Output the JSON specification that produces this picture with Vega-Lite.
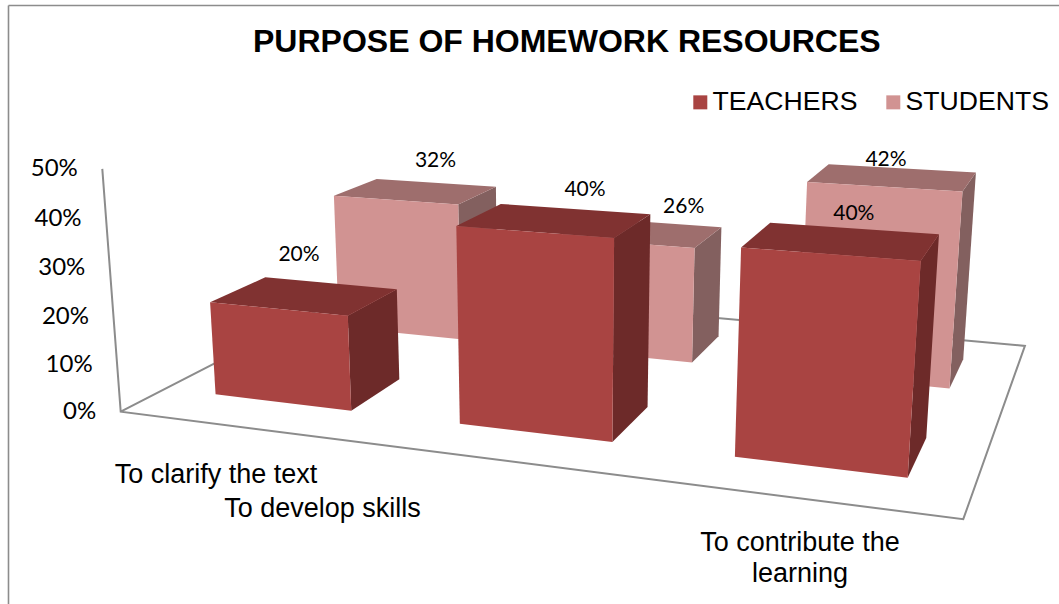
{
  "$schema": "https://vega.github.io/schema/vega-lite/v6.json",
  "width": 1059,
  "height": 604,
  "padding": 0,
  "autosize": "none",
  "background": "white",
  "config": {"view": {"stroke": null}},
  "title": {
    "text": "PURPOSE OF HOMEWORK RESOURCES",
    "anchor": "start",
    "frame": "group",
    "dx": 253,
    "dy": 63,
    "font": "Liberation Sans",
    "fontSize": 32,
    "fontWeight": "bold",
    "color": "#000000"
  },
  "datasets": {
    "bars": [
      {"purpose": "To clarify the text", "group": "TEACHERS", "value": 0.20},
      {"purpose": "To develop skills", "group": "TEACHERS", "value": 0.40},
      {"purpose": "To contribute the learning", "group": "TEACHERS", "value": 0.40},
      {"purpose": "To clarify the text", "group": "STUDENTS", "value": 0.32},
      {"purpose": "To develop skills", "group": "STUDENTS", "value": 0.26},
      {"purpose": "To contribute the learning", "group": "STUDENTS", "value": 0.42}
    ],
    "ticks": [{"tick": 0}, {"tick": 0.1}, {"tick": 0.2}, {"tick": 0.3}, {"tick": 0.4}, {"tick": 0.5}],
    "floor": [{"step": 0}, {"step": 1}, {"step": 2}, {"step": 3}, {"step": 4}, {"step": 5}],
    "border": [{"edge": "top"}, {"edge": "left"}]
  },
  "resolve": {"scale": {"x": "independent", "y": "independent"}},
  "layer": [
    {
      "data": {"name": "border"},
      "mark": {"type": "rule", "color": "#8c8c8c", "strokeWidth": 1.6},
      "transform": [
        {"calculate": "8.5", "as": "x0"},
        {"calculate": "datum.edge == 'top' ? 1059 : 8.5", "as": "x1"},
        {"calculate": "5.5", "as": "y0"},
        {"calculate": "datum.edge == 'top' ? 5.5 : 604", "as": "y1"}
      ],
      "encoding": {
        "x": {"field": "x0", "type": "quantitative", "axis": null, "scale": {"domain": [0, 1059], "range": [0, 1059], "nice": false, "zero": false}},
        "x2": {"field": "x1"},
        "y": {"field": "y0", "type": "quantitative", "axis": null, "scale": {"domain": [0, 604], "range": [0, 604], "nice": false, "zero": false}},
        "y2": {"field": "y1"}
      }
    },
    {
      "data": {"name": "floor"},
      "transform": [
        {"calculate": "[0,0,1,1,0,0][datum.step]", "as": "wx"},
        {"calculate": "[0,0,0,1,1,0][datum.step]", "as": "wz"},
        {"calculate": "[1,0,0,0,0,0][datum.step]", "as": "wh"},
        {"calculate": "1 - 0.17333*datum.wx + 0.29274*datum.wz - 0.03994*datum.wh", "as": "w"},
        {"calculate": "(675.6*datum.wx + 351*datum.wz - 22.49*datum.wh + 120.7) / datum.w", "as": "px"},
        {"calculate": "(17.5*datum.wx - 41.98*datum.wz - 249.5*datum.wh + 411.7) / datum.w", "as": "py"}
      ],
      "mark": {"type": "line", "color": "#8c8c8c", "strokeWidth": 2, "strokeJoin": "miter"},
      "encoding": {
        "x": {"field": "px", "type": "quantitative", "axis": null, "scale": {"domain": [0, 1059], "range": [0, 1059], "nice": false, "zero": false}},
        "y": {"field": "py", "type": "quantitative", "axis": null, "scale": {"domain": [0, 604], "range": [0, 604], "nice": false, "zero": false}},
        "order": {"field": "step", "type": "quantitative"}
      }
    },
    {
      "data": {"name": "bars"},
      "transform": [
        {"calculate": "indexof(['To clarify the text','To develop skills','To contribute the learning'], datum.purpose)", "as": "slot"},
        {"calculate": "datum.group == 'STUDENTS' ? 0.655 : 0.15", "as": "z0"},
        {"calculate": "datum.z0 + 0.205", "as": "z1"},
        {"calculate": "0.0725 + 0.3335*datum.slot", "as": "x0"},
        {"calculate": "datum.x0 + 0.19", "as": "x1"},
        {"calculate": "datum.value / 0.5", "as": "h"},
        {"calculate": "['side','top','front']", "as": "face"},
        {"flatten": ["face"]},
        {"calculate": "[0,1,2,3]", "as": "corner"},
        {"flatten": ["corner"]},
        {"calculate": "datum.face == 'side' ? datum.x1 : (datum.corner == 0 || datum.corner == 3 ? datum.x0 : datum.x1)", "as": "wx"},
        {"calculate": "datum.face == 'front' ? datum.z0 : datum.face == 'top' ? (datum.corner < 2 ? datum.z0 : datum.z1) : (datum.corner == 0 || datum.corner == 3 ? datum.z0 : datum.z1)", "as": "wz"},
        {"calculate": "datum.face == 'top' || datum.corner < 2 ? datum.h : 0", "as": "wh"},
        {"calculate": "1 - 0.17333*datum.wx + 0.29274*datum.wz - 0.03994*datum.wh", "as": "w"},
        {"calculate": "(675.6*datum.wx + 351*datum.wz - 22.49*datum.wh + 120.7) / datum.w", "as": "px"},
        {"calculate": "(17.5*datum.wx - 41.98*datum.wz - 249.5*datum.wh + 411.7) / datum.w", "as": "py"}
      ],
      "encoding": {
        "x": {"field": "px", "type": "quantitative", "axis": null, "scale": {"domain": [0, 1059], "range": [0, 1059], "nice": false, "zero": false}},
        "y": {"field": "py", "type": "quantitative", "axis": null, "scale": {"domain": [0, 604], "range": [0, 604], "nice": false, "zero": false}},
        "order": {"field": "corner", "type": "quantitative"},
        "detail": {"field": "purpose"}
      },
      "layer": [
        {
          "transform": [{"filter": "datum.group == 'STUDENTS' && datum.face == 'side'"}],
          "mark": {"type": "line", "fill": "#83605f", "strokeWidth": 0}
        },
        {
          "transform": [{"filter": "datum.group == 'STUDENTS' && datum.face == 'top'"}],
          "mark": {"type": "line", "fill": "#9e6e6d", "strokeWidth": 0}
        },
        {
          "transform": [{"filter": "datum.group == 'STUDENTS' && datum.face == 'front'"}],
          "mark": {"type": "line", "strokeWidth": 0},
          "encoding": {
            "fill": {
              "field": "group",
              "type": "nominal",
              "scale": {"domain": ["TEACHERS", "STUDENTS"], "range": ["#a94442", "#d19392"]},
              "legend": {
                "title": null,
                "orient": "none",
                "legendX": 687,
                "legendY": 89,
                "direction": "horizontal",
                "columns": 2,
                "columnPadding": 22,
                "symbolType": "square",
                "symbolSize": 196,
                "symbolStrokeWidth": 0,
                "labelFont": "Liberation Sans",
                "labelFontSize": 26.6,
                "labelColor": "#000000",
                "labelLimit": 300,
                "labelOffset": -1
              }
            }
          }
        },
        {
          "transform": [{"filter": "datum.group == 'TEACHERS' && datum.face == 'side'"}],
          "mark": {"type": "line", "fill": "#6d2a29", "strokeWidth": 0}
        },
        {
          "transform": [{"filter": "datum.group == 'TEACHERS' && datum.face == 'top'"}],
          "mark": {"type": "line", "fill": "#803231", "strokeWidth": 0}
        },
        {
          "transform": [{"filter": "datum.group == 'TEACHERS' && datum.face == 'front'"}],
          "mark": {"type": "line", "strokeWidth": 0},
          "encoding": {"fill": {"field": "group", "type": "nominal"}}
        }
      ]
    },
    {
      "data": {"name": "ticks"},
      "transform": [
        {"calculate": "datum.tick / 0.5", "as": "wh"},
        {"calculate": "1 - 0.03994*datum.wh", "as": "w"},
        {"calculate": "(120.7 - 22.49*datum.wh) / datum.w", "as": "px"},
        {"calculate": "(411.7 - 249.5*datum.wh) / datum.w", "as": "py"}
      ],
      "mark": {"type": "text", "font": "Lato", "fontSize": 24, "align": "right", "baseline": "middle", "dx": -24.5, "color": "#000000"},
      "encoding": {
        "x": {"field": "px", "type": "quantitative", "axis": null, "scale": {"domain": [0, 1059], "range": [0, 1059], "nice": false, "zero": false}},
        "y": {"field": "py", "type": "quantitative", "axis": null, "scale": {"domain": [0, 604], "range": [0, 604], "nice": false, "zero": false}},
        "text": {"field": "tick", "type": "quantitative", "format": ".0%"}
      }
    },
    {
      "data": {"name": "bars"},
      "transform": [
        {"calculate": "indexof(['To clarify the text','To develop skills','To contribute the learning'], datum.purpose) + (datum.group == 'STUDENTS' ? 3 : 0)", "as": "barIndex"}
      ],
      "mark": {"type": "text", "font": "Lato", "fontSize": 21, "align": "center", "baseline": "middle", "color": "#000000"},
      "encoding": {
        "x": {"field": "barIndex", "type": "quantitative", "axis": null, "scale": {"domain": [0, 1, 2, 3, 4, 5], "range": [299, 585, 853.8, 435.5, 683.7, 886], "nice": false, "zero": false}},
        "y": {"field": "barIndex", "type": "quantitative", "axis": null, "scale": {"domain": [0, 1, 2, 3, 4, 5], "range": [255, 190, 214, 161, 207, 160], "nice": false, "zero": false}},
        "text": {"field": "value", "type": "quantitative", "format": ".0%"}
      }
    },
    {
      "data": {"name": "bars"},
      "transform": [
        {"filter": "datum.group == 'TEACHERS'"},
        {"calculate": "indexof(['To clarify the text','To develop skills','To contribute the learning'], datum.purpose)", "as": "slot"},
        {"calculate": "replace(datum.purpose, 'the learning', 'the\\nlearning')", "as": "label"}
      ],
      "mark": {"type": "text", "font": "Liberation Sans", "fontSize": 27, "align": "center", "baseline": "alphabetic", "lineBreak": "\n", "lineHeight": 31, "color": "#000000"},
      "encoding": {
        "x": {"field": "slot", "type": "quantitative", "axis": null, "scale": {"domain": [0, 1, 2], "range": [216, 322.5, 800], "nice": false, "zero": false}},
        "y": {"field": "slot", "type": "quantitative", "axis": null, "scale": {"domain": [0, 1, 2], "range": [483, 517, 551], "nice": false, "zero": false}},
        "text": {"field": "label", "type": "nominal"}
      }
    }
  ]
}
